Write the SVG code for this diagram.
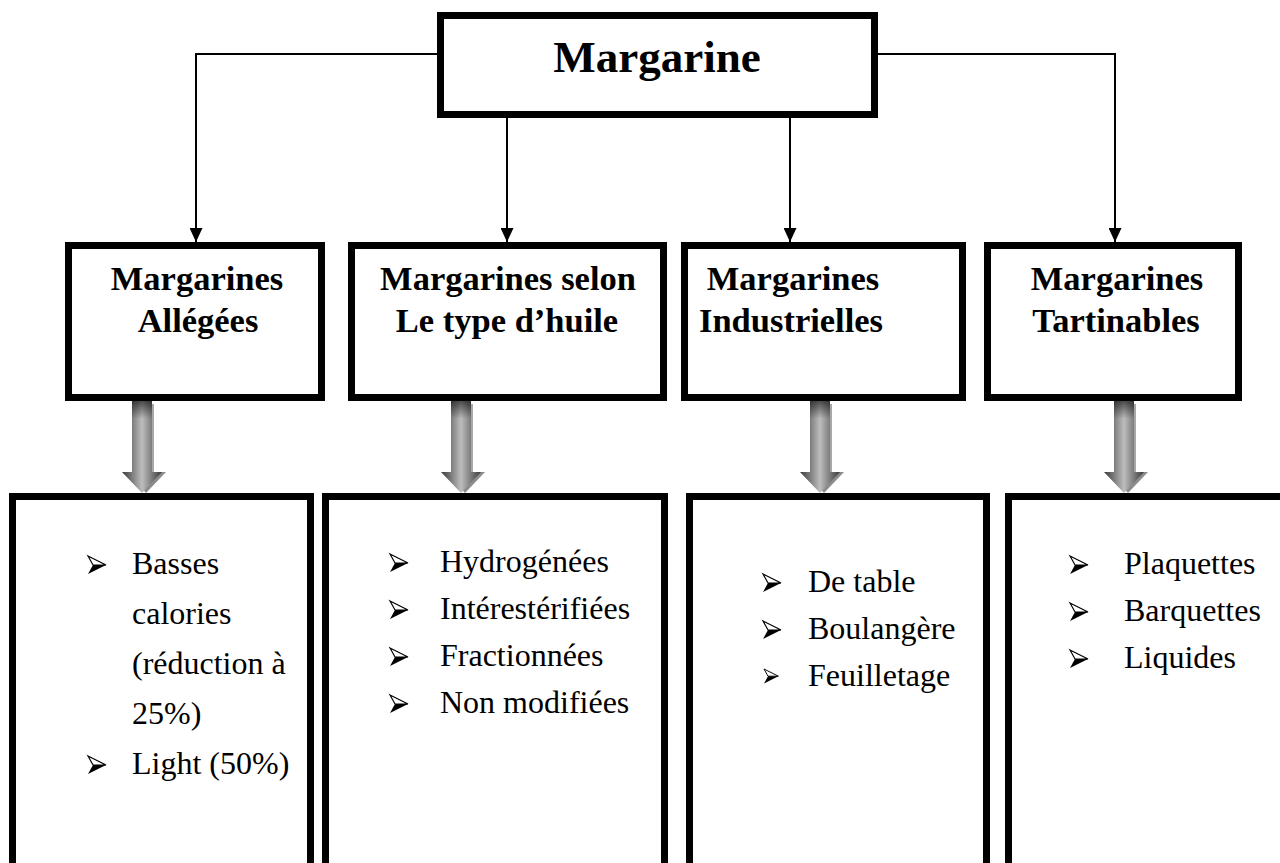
<svg xmlns="http://www.w3.org/2000/svg" width="1280" height="863" viewBox="0 0 1280 863">
<style>
.box{fill:#fff;stroke:#000;stroke-width:7}
.conn{fill:none;stroke:#000;stroke-width:2}
.title{font-family:"Liberation Serif","Times New Roman",serif;font-weight:bold;text-anchor:middle;fill:#000}
.item{font-family:"Liberation Serif","Times New Roman",serif;font-size:32px;fill:#000}
.bul-top{fill:#fff;stroke:#000;stroke-width:1.2;stroke-linejoin:miter}
.bul-bot{fill:#000}
</style>
<defs>
<marker id="ah" viewBox="0 0 14 13" refX="14" refY="6.5" markerWidth="14" markerHeight="13" markerUnits="userSpaceOnUse" orient="auto">
<path d="M0,0 L14,6.5 L0,13 z" fill="#000"/>
</marker>
<linearGradient id="gh" x1="0" y1="0" x2="1" y2="0">
<stop offset="0" stop-color="#3a3a3a"/>
<stop offset="0.5" stop-color="#bdbdbd"/>
<stop offset="1" stop-color="#3a3a3a"/>
</linearGradient>
<linearGradient id="gv" x1="0" y1="0" x2="0" y2="1">
<stop offset="0" stop-color="#000" stop-opacity="0.6"/>
<stop offset="0.25" stop-color="#000" stop-opacity="0"/>
<stop offset="1" stop-color="#000" stop-opacity="0"/>
</linearGradient>
<g id="fat">
<path d="M8,3 L12,3 L12,71 L8,71 z" fill="#a8a8a8"/>
<path d="M-14,71 L24,71 L4,92 z" fill="#8c8c8c"/>
<path d="M-10,0 L10,0 L10,71 L20,71 L0,92 L-20,71 L-10,71 z" fill="url(#gh)"/>
<path d="M-10,0 L10,0 L10,71 L-10,71 z" fill="url(#gv)"/>
</g>
<g id="bul">
<path d="M0,0 L18,9 L5,9 z" class="bul-top"/>
<path d="M5,9 L18,9 L0,18 z" class="bul-bot"/>
</g>
</defs>

<g id="connectors">
<polyline class="conn" points="440,54 196,54 196,242" marker-end="url(#ah)"/>
<polyline class="conn" points="875,54 1115,54 1115,242" marker-end="url(#ah)"/>
<line class="conn" x1="507" y1="118" x2="507" y2="242" marker-end="url(#ah)"/>
<line class="conn" x1="790" y1="118" x2="790" y2="242" marker-end="url(#ah)"/>
<use href="#fat" x="142" y="401"/>
<use href="#fat" x="461" y="401"/>
<use href="#fat" x="820" y="401"/>
<use href="#fat" x="1124" y="401"/>
</g>

<g id="node-margarine">
<rect class="box" x="440.5" y="15.5" width="434" height="99"/>
<text class="title" x="657" y="72" font-size="45">Margarine</text>
</g>

<g id="node-allegees">
<rect class="box" x="68.5" y="245.5" width="253" height="152"/>
<text class="title" x="197" y="290" font-size="34.5">Margarines</text>
<text class="title" x="198" y="332" font-size="34.5">Allégées</text>
</g>
<g id="node-huile">
<rect class="box" x="351.5" y="245.5" width="312" height="152"/>
<text class="title" x="508" y="290" font-size="34.5">Margarines selon</text>
<text class="title" x="507" y="332" font-size="34.5">Le type d’huile</text>
</g>
<g id="node-industrielles">
<rect class="box" x="684.5" y="245.5" width="278" height="152"/>
<text class="title" x="793" y="290" font-size="34.5">Margarines</text>
<text class="title" x="791" y="332" font-size="34.5">Industrielles</text>
</g>
<g id="node-tartinables">
<rect class="box" x="987.5" y="245.5" width="251" height="152"/>
<text class="title" x="1117" y="290" font-size="34.5">Margarines</text>
<text class="title" x="1116" y="332" font-size="34.5">Tartinables</text>
</g>

<g id="list-allegees">
<rect class="box" x="12.5" y="496.5" width="298" height="420"/>
<use href="#bul" x="88" y="556"/>
<text class="item" x="132" y="574">Basses</text>
<text class="item" x="132" y="624">calories</text>
<text class="item" x="132" y="674">(réduction à</text>
<text class="item" x="132" y="724">25%)</text>
<use href="#bul" x="88" y="756"/>
<text class="item" x="132" y="774">Light (50%)</text>
</g>
<g id="list-huile">
<rect class="box" x="325.5" y="496.5" width="339" height="420"/>
<use href="#bul" x="390" y="554"/>
<text class="item" x="440" y="572">Hydrogénées</text>
<use href="#bul" x="390" y="601"/>
<text class="item" x="440" y="619">Intérestérifiées</text>
<use href="#bul" x="390" y="648"/>
<text class="item" x="440" y="666">Fractionnées</text>
<use href="#bul" x="390" y="695"/>
<text class="item" x="440" y="713">Non modifiées</text>
</g>
<g id="list-industrielles">
<rect class="box" x="689.5" y="496.5" width="297" height="420"/>
<use href="#bul" x="763" y="574"/>
<text class="item" x="808" y="592">De table</text>
<use href="#bul" x="763" y="621"/>
<text class="item" x="808" y="639">Boulangère</text>
<use href="#bul" x="764" y="669" transform="translate(764,669) scale(0.8) translate(-764,-669)"/>
<text class="item" x="808" y="686">Feuilletage</text>
</g>
<g id="list-tartinables">
<rect class="box" x="1008.5" y="496.5" width="320" height="420"/>
<use href="#bul" x="1070" y="556"/>
<text class="item" x="1124" y="574">Plaquettes</text>
<use href="#bul" x="1070" y="603"/>
<text class="item" x="1124" y="621">Barquettes</text>
<use href="#bul" x="1070" y="650"/>
<text class="item" x="1124" y="668">Liquides</text>
</g>
</svg>
